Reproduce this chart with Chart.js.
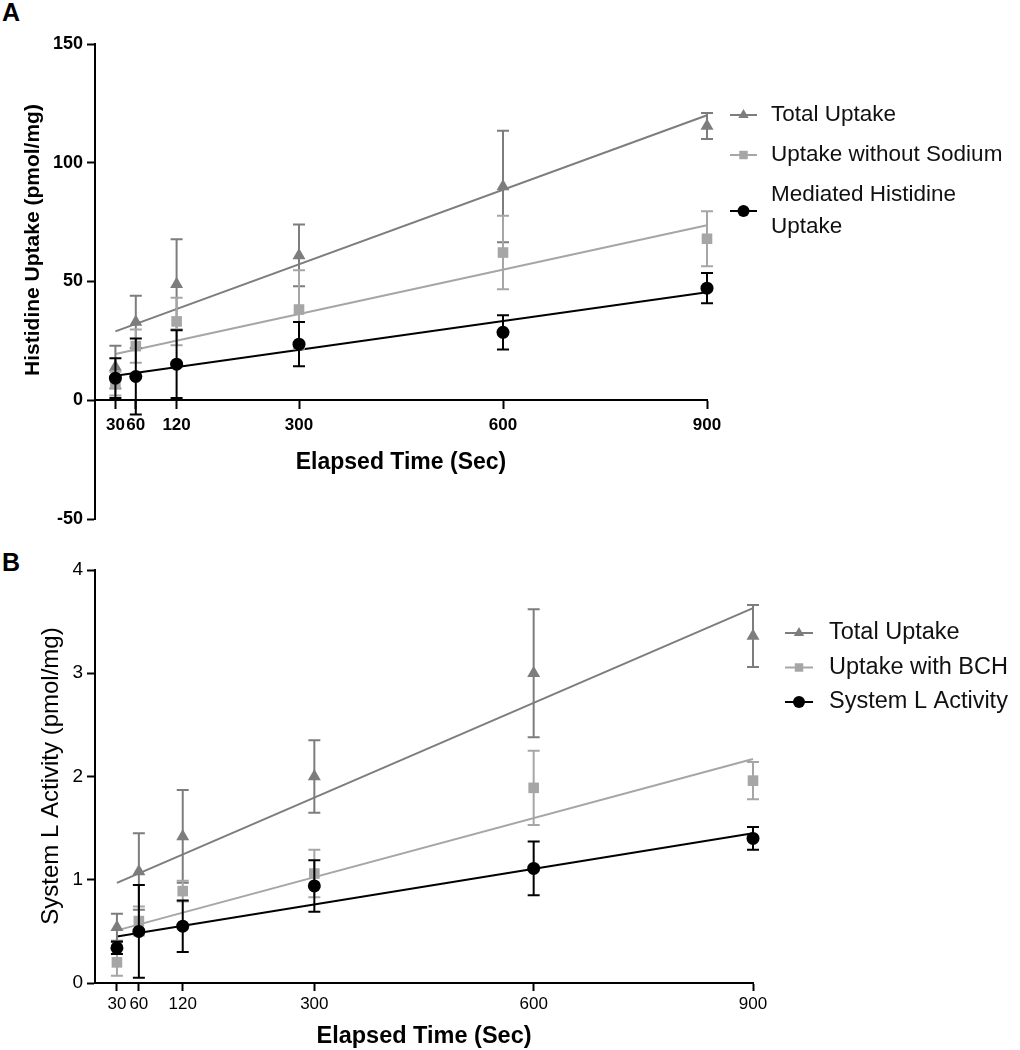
<!DOCTYPE html>
<html>
<head>
<meta charset="utf-8">
<script src="https://cdn.jsdelivr.net/npm/chart.js@4.4.1/dist/chart.umd.min.js"></script>
<style>
    body { margin: 0; background: #fff; }
    .panel { position: absolute; left: 0; width: 1020px; }
    .letter { position: absolute; left: 2px; font: bold 25px/25px "Liberation Sans", Arial, sans-serif; color: #000; }
</style>
</head>
<body>
<div class="letter" style="top:0">A</div>
<div class="letter" style="top:550px">B</div>
<div class="panel" style="top:0;height:540px"><canvas id="chartA"></canvas></div>
<div class="panel" style="top:540px;height:510px"><canvas id="chartB"></canvas></div>
<script>
// shared x values (seconds)
var times = [30, 60, 120, 300, 600, 900];
var xTicks = [30, 60, 120, 300, 600, 900];
var fitX = [30, 900];

// panel A - histidine uptake (pmol/mg)
var totalA = [14, 33, 48.8, 61, 90, 115.5];
var totalAErr = [9, 11, 19, 13, 23.5, 5.5];
var noSodiumA = [7, 22.8, 33.2, 38.2, 62.2, 68];
var noSodiumAErr = [5, 7, 10, 16.5, 15.5, 11.6];
var mediatedA = [9.3, 10, 15.2, 23.6, 28.6, 47.2];
var mediatedAErr = [8.4, 16, 14.3, 9.3, 7.2, 6.4];
var fitTotalA = [29, 120];
var fitNoSodiumA = [19.5, 73.7];
var fitMediatedA = [10.3, 45.5];

// panel B - system L activity (pmol/mg)
var totalB = [0.54, 1.08, 1.42, 2.0, 3.0, 3.36];
var totalBErr = [0.13, 0.37, 0.45, 0.35, 0.62, 0.3];
var bchB = [0.2, 0.6, 0.89, 1.06, 1.89, 1.96];
var bchBErr = [0.13, 0.14, 0.1, 0.23, 0.36, 0.18];
var systemLB = [0.34, 0.5, 0.55, 0.94, 1.11, 1.4];
var systemLBErr = [0.06, 0.45, 0.25, 0.25, 0.26, 0.11];
var fitTotalB = [0.97, 3.63];
var fitBchB = [0.51, 2.17];
var fitSystemLB = [0.45, 1.45];

var sans = '"Liberation Sans", Arial, sans-serif';
var darkGray = '#7d7d7d';
var lightGray = '#a6a6a6';

function pts(xs, ys) {
    return xs.map(function (x, i) { return { x: x, y: ys[i] }; });
}

function markerSet(label, xs, ys, errs, color, style, radius, order) {
    return {
        label: label,
        data: pts(xs, ys),
        errors: errs,
        showLine: false,
        pointStyle: style,
        pointRadius: radius,
        pointBackgroundColor: color,
        pointBorderWidth: 0,
        borderColor: color,
        backgroundColor: color,
        order: order,
        clip: false
    };
}

function fitSet(ys, color, order) {
    return {
        data: pts(fitX, ys),
        showLine: true,
        pointRadius: 0,
        borderColor: color,
        borderWidth: 2,
        order: order,
        clip: false
    };
}

var errorBars = {
    id: 'errorBars',
    afterDatasetDraw: function (chart, args) {
        var ds = chart.data.datasets[args.index];
        if (!ds.errors) return;
        var ctx = chart.ctx;
        var yScale = chart.scales.y;
        var cap = 6;
        ctx.save();
        ctx.strokeStyle = ds.borderColor;
        ctx.lineWidth = 2;
        args.meta.data.forEach(function (pt, i) {
            var v = ds.data[i].y;
            var top = yScale.getPixelForValue(v + ds.errors[i]);
            var bottom = yScale.getPixelForValue(v - ds.errors[i]);
            ctx.beginPath();
            ctx.moveTo(pt.x, top);
            ctx.lineTo(pt.x, bottom);
            ctx.moveTo(pt.x - cap, top);
            ctx.lineTo(pt.x + cap, top);
            ctx.moveTo(pt.x - cap, bottom);
            ctx.lineTo(pt.x + cap, bottom);
            ctx.stroke();
        });
        ctx.restore();
    }
};

function wrapText(ctx, text, maxWidth) {
    var words = text.split(' ');
    var lines = [];
    var line = '';
    words.forEach(function (w) {
        var test = line ? line + ' ' + w : w;
        if (line && ctx.measureText(test).width > maxWidth) {
            lines.push(line);
            line = w;
        } else {
            line = test;
        }
    });
    lines.push(line);
    return lines;
}

var sideLegend = {
    id: 'sideLegend',
    afterDraw: function (chart, args, opts) {
        var ctx = chart.ctx;
        var y = opts.top;
        ctx.save();
        ctx.font = opts.font;
        ctx.textBaseline = 'middle';
        ctx.textAlign = 'left';
        chart.data.datasets.forEach(function (ds) {
            if (!ds.errors) return;
            var lines = wrapText(ctx, ds.label, opts.maxWidth);
            var mid = y + lines.length * opts.lineHeight / 2;
            ctx.strokeStyle = ds.borderColor;
            ctx.lineWidth = 2;
            ctx.beginPath();
            ctx.moveTo(opts.x, mid);
            ctx.lineTo(opts.x + opts.lineLength, mid);
            ctx.stroke();
            ctx.fillStyle = ds.backgroundColor;
            Chart.helpers.drawPoint(ctx, { pointStyle: ds.pointStyle, radius: opts.radius, rotation: 0, borderWidth: 0 },
                opts.x + opts.lineLength / 2, mid);
            ctx.fillStyle = '#111';
            lines.forEach(function (l, i) {
                ctx.fillText(l, opts.textX, y + opts.lineHeight * (i + 0.5));
            });
            y += lines.length * opts.lineHeight + opts.gap;
        });
        ctx.restore();
    }
};

var axisTitles = {
    id: 'axisTitles',
    afterDraw: function (chart, args, opts) {
        var ctx = chart.ctx;
        opts.items.forEach(function (t) {
            ctx.save();
            ctx.translate(t.x, t.y);
            ctx.rotate(t.rotation || 0);
            ctx.font = t.font;
            ctx.fillStyle = '#000';
            ctx.textAlign = 'center';
            ctx.textBaseline = 'middle';
            ctx.fillText(t.text, 0, 0);
            ctx.restore();
        });
    }
};

function axisOptions(min, max, step, tickFont, pad) {
    return {
        type: 'linear',
        min: min,
        max: max,
        border: { display: true, color: '#000', width: 2 },
        grid: { drawOnChartArea: false, drawTicks: true, tickLength: 8, tickWidth: 2, tickColor: '#000' },
        ticks: { stepSize: step, color: '#000', font: tickFont, padding: pad, autoSkip: false, maxRotation: 0, minRotation: 0 }
    };
}

// panel A
var xA = axisOptions(0, 900, null, { family: sans, size: 17, weight: 'bold' }, 7);
xA.position = { y: 0 };
xA.afterBuildTicks = function (axis) { axis.ticks = xTicks.map(function (v) { return { value: v }; }); };
var yA = axisOptions(-50, 150, 50, { family: sans, size: 18, weight: 'bold' }, 4);
yA.afterFit = function (s) { s.width = 95; };

new Chart(document.getElementById('chartA'), {
    type: 'scatter',
    data: {
        datasets: [
            markerSet('Total Uptake', times, totalA, totalAErr, darkGray, 'triangle', 7.5, 3),
            markerSet('Uptake without Sodium', times, noSodiumA, noSodiumAErr, lightGray, 'rect', 7.5, 2),
            markerSet('Mediated Histidine Uptake', times, mediatedA, mediatedAErr, '#000', 'circle', 6.5, 1),
            fitSet(fitTotalA, darkGray, 6),
            fitSet(fitNoSodiumA, lightGray, 5),
            fitSet(fitMediatedA, '#000', 4)
        ]
    },
    options: {
        responsive: true,
        maintainAspectRatio: false,
        animation: false,
        layout: { autoPadding: false, padding: { top: 44, right: 313, bottom: 21, left: 0 } },
        scales: { x: xA, y: yA },
        plugins: {
            legend: { display: false },
            tooltip: { enabled: false },
            sideLegend: { x: 730, lineLength: 27, textX: 771, top: 99, lineHeight: 32, gap: 8, radius: 6,
                maxWidth: 245, font: '22.5px ' + sans },
            axisTitles: { items: [
                { text: 'Histidine Uptake (pmol/mg)', x: 33, y: 240, rotation: -Math.PI / 2, font: 'bold 21px ' + sans },
                { text: 'Elapsed Time (Sec)', x: 401, y: 463, font: 'bold 23px ' + sans }
            ] }
        }
    },
    plugins: [errorBars, sideLegend, axisTitles]
});

// panel B
var xB = axisOptions(0, 900, null, { family: sans, size: 17 }, 3);
xB.afterBuildTicks = function (axis) { axis.ticks = xTicks.map(function (v) { return { value: v }; }); };
xB.afterFit = function (s) { s.height = 67; };
var yB = axisOptions(0, 4, 1, { family: sans, size: 19 }, 4);
yB.afterFit = function (s) { s.width = 95; };

new Chart(document.getElementById('chartB'), {
    type: 'scatter',
    data: {
        datasets: [
            markerSet('Total Uptake', times, totalB, totalBErr, darkGray, 'triangle', 7.5, 3),
            markerSet('Uptake with BCH', times, bchB, bchBErr, lightGray, 'rect', 7.5, 2),
            markerSet('System L Activity', times, systemLB, systemLBErr, '#000', 'circle', 6.5, 1),
            fitSet(fitTotalB, darkGray, 6),
            fitSet(fitBchB, lightGray, 5),
            fitSet(fitSystemLB, '#000', 4)
        ]
    },
    options: {
        responsive: true,
        maintainAspectRatio: false,
        animation: false,
        layout: { autoPadding: false, padding: { top: 30, right: 267, bottom: 0, left: 0 } },
        scales: { x: xB, y: yB },
        plugins: {
            legend: { display: false },
            tooltip: { enabled: false },
            sideLegend: { x: 785, lineLength: 28, textX: 829, top: 79, lineHeight: 28, gap: 6.5, radius: 6,
                maxWidth: 190, font: '23.5px ' + sans },
            axisTitles: { items: [
                { text: 'System L Activity (pmol/mg)', x: 51, y: 236, rotation: -Math.PI / 2, font: '24px ' + sans },
                { text: 'Elapsed Time (Sec)', x: 424, y: 497, font: 'bold 23.5px ' + sans }
            ] }
        }
    },
    plugins: [errorBars, sideLegend, axisTitles]
});
</script>
</body>
</html>
